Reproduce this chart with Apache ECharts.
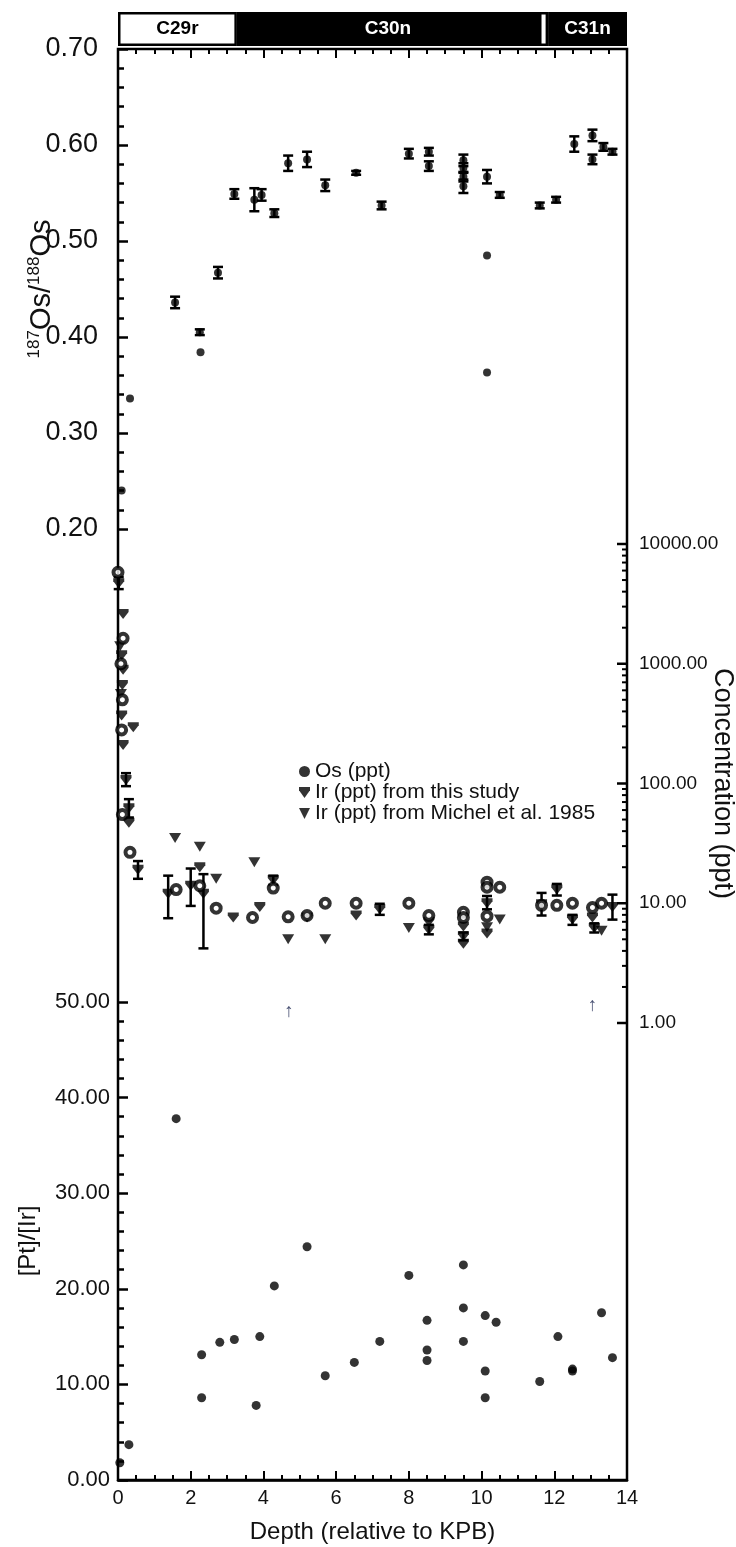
<!DOCTYPE html>
<html>
<head>
<meta charset="utf-8">
<script src="https://cdn.jsdelivr.net/npm/echarts@6.0.0/dist/echarts.min.js"></script>
<style>
  html, body { margin: 0; padding: 0; background: #fff; }
  #chart { width: 736px; height: 1547px; }
</style>
</head>
<body>
<div id="chart"></div>
<script>
// magnetochrons along the top bar
const chronNames = ["C29r", "C30n", "C30r", "C31n"];
const chronStart = [0, 3.27, 11.58, 11.83];
const chronEnd = [3.27, 11.58, 11.83, 14];
const chronNormal = [0, 1, 0, 1];

// 187Os/188Os : [depth, ratio, error]
const osRatio = [
  [0.1, 0.240, 0], [0.33, 0.336, 0], [1.57, 0.436, 0.006], [2.25, 0.405, 0.003],
  [2.27, 0.384, 0], [2.75, 0.467, 0.006], [3.2, 0.549, 0.005], [3.75, 0.543, 0.012],
  [3.95, 0.548, 0.006], [4.3, 0.529, 0.004], [4.68, 0.581, 0.008], [5.2, 0.585, 0.008],
  [5.7, 0.558, 0.006], [6.55, 0.571, 0.002], [7.25, 0.537, 0.004], [8.0, 0.591, 0.005],
  [8.55, 0.593, 0.004], [8.55, 0.578, 0.005], [9.5, 0.584, 0.006], [9.5, 0.576, 0.005],
  [9.5, 0.567, 0.005], [9.5, 0.557, 0.007], [10.15, 0.567, 0.007], [10.15, 0.485, 0],
  [10.15, 0.363, 0], [10.5, 0.548, 0.003], [11.6, 0.537, 0.003], [12.05, 0.543, 0.003],
  [12.55, 0.601, 0.008], [13.05, 0.610, 0.006], [13.05, 0.585, 0.005], [13.35, 0.598, 0.004],
  [13.6, 0.593, 0.003]
];

// Os (ppt) : [depth, value]
const osConc = [
  [0.0, 5800], [0.14, 1630], [0.08, 1000], [0.12, 500], [0.1, 280], [0.12, 55], [0.33, 26.6],
  [1.6, 13], [2.25, 14], [2.7, 9.1], [3.7, 7.6], [4.27, 13.4], [4.68, 7.7], [5.2, 7.9],
  [5.7, 10], [6.55, 10], [8.0, 10], [8.55, 7.9], [9.5, 8.4], [9.5, 7.6], [10.15, 15],
  [10.15, 13.6], [10.15, 7.8], [10.5, 13.6], [11.65, 9.6], [12.07, 9.6], [12.5, 10],
  [13.05, 9.2], [13.3, 10]
];

// Ir (ppt) from this study : [depth, value, low, high]
const irThis = [
  [0.02, 4700, 4200, 5300], [0.14, 2600, null, null], [0.1, 1180, null, null],
  [0.14, 890, null, null], [0.12, 665, null, null], [0.1, 370, null, null],
  [0.14, 210, null, null], [0.42, 295, null, null], [0.22, 107, 95, 122],
  [0.3, 62, 52, 74], [0.3, 47, null, null], [0.55, 19, 16, 22.5], [1.38, 12, 7.5, 17],
  [2.0, 14, 9.5, 19.5], [2.25, 20, null, null], [2.35, 12, 4.2, 17.5], [3.17, 7.6, null, null],
  [3.9, 9.3, null, null], [4.27, 15.6, 14.2, 17], [5.2, 7.6, null, null], [6.55, 7.9, null, null],
  [7.2, 8.9, 8.0, 9.9], [8.55, 7.0, null, null], [8.55, 6.0, 5.5, 6.6], [9.5, 6.4, null, null],
  [9.5, 5.3, 4.9, 5.7], [9.5, 4.6, null, null], [10.15, 10, 8.9, 11.5], [10.15, 5.6, null, null],
  [11.65, 9.8, 7.9, 12.2], [12.07, 13, 11.6, 14.5], [12.5, 7.3, 6.6, 8.0], [13.05, 7.6, null, null],
  [13.1, 6.2, 5.7, 6.8], [13.6, 9.3, 7.3, 11.8]
];

// Ir (ppt) from Michel et al. 1985 : [depth, value]
const irMichel = [
  [0.06, 1400], [0.08, 560], [1.57, 35], [2.25, 29.6], [2.7, 16], [3.75, 22],
  [4.68, 5.0], [5.7, 5.0], [8.0, 6.2], [10.15, 6.3], [10.5, 7.3], [13.3, 5.9]
];

// [Pt]/[Ir] : [depth, ratio]
const ptIr = [
  [0.05, 1.8], [0.3, 3.7], [1.6, 37.8], [2.3, 13.1], [2.3, 8.6], [2.8, 14.4], [3.2, 14.7],
  [3.8, 7.8], [3.9, 15.0], [4.3, 20.3], [5.2, 24.4], [5.7, 10.9], [6.5, 12.3], [7.2, 14.5],
  [8.0, 21.4], [8.5, 16.7], [8.5, 13.6], [8.5, 12.5], [9.5, 22.5], [9.5, 18.0], [9.5, 14.5],
  [10.1, 17.2], [10.1, 11.4], [10.1, 8.6], [10.4, 16.5], [11.6, 10.3], [12.1, 15.0],
  [12.5, 11.6], [12.5, 11.4], [13.3, 17.5], [13.6, 12.8]
];

// little arrows drawn under the concentration panel : [depth, ppt]
const arrowMarks = [[4.7, 1.25], [13.05, 1.4]];

const FONT = "Liberation Sans, Arial, sans-serif";
const INK = "#111";
const LEFT = 118, WIDTH = 509;

// ticks of the log concentration axis: decades + 2..9 in each decade
const concTicks = [[14, 1, 10], [14, 10, 10], [14, 100, 10], [14, 1000, 10], [14, 10000, 10]];
[1, 10, 100, 1000].forEach((d) => {
  for (let m = 2; m <= 9; m++) concTicks.push([14, m * d, 5]);
});

const downTri = "path://M0,0L10,0L5,10Z";
const downTriFlat = "path://M0,0L10,0L10,3L5,10L0,3Z";

function errRows(rows) {
  return rows.filter((r) => r[2] != null && r[3] != null).map((r) => [r[0], r[1], r[2], r[3]]);
}

function errorBar(params, api) {
  const x = api.value(0);
  const top = api.coord([x, api.value(3)]);
  const bot = api.coord([x, api.value(2)]);
  const cap = 5;
  const st = { stroke: "#000", lineWidth: 2.5 };
  return {
    type: "group",
    children: [
      { type: "line", shape: { x1: top[0], y1: top[1], x2: bot[0], y2: bot[1] }, style: st },
      { type: "line", shape: { x1: top[0] - cap, y1: top[1], x2: top[0] + cap, y2: top[1] }, style: st },
      { type: "line", shape: { x1: bot[0] - cap, y1: bot[1], x2: bot[0] + cap, y2: bot[1] }, style: st },
    ],
  };
}

function chronItem(params, api) {
  const i = params.dataIndex;
  const a = api.coord([api.value(0), 1]);
  const b = api.coord([api.value(1), 0]);
  const w = b[0] - a[0], h = b[1] - a[1];
  const normal = chronNormal[i] === 1;
  const children = [
    { type: "rect", shape: { x: a[0], y: a[1], width: w, height: h }, style: { fill: "#000" } },
  ];
  if (!normal) {
    children.push({
      type: "rect",
      shape: { x: a[0] + 2.5, y: a[1] + 2.5, width: w - 5, height: h - 5 },
      style: { fill: "#fff" },
    });
  }
  if (w > 30) {
    children.push({
      type: "text",
      x: a[0] + w / 2,
      y: a[1] + h / 2,
      style: {
        text: chronNames[i],
        fill: normal ? "#fff" : "#000",
        font: "bold 19px " + FONT,
        align: "center",
        verticalAlign: "middle",
      },
    });
  }
  return { type: "group", children };
}

function concTick(params, api) {
  const p = api.coord([api.value(0), api.value(1)]);
  const len = api.value(2);
  return {
    type: "line",
    shape: { x1: p[0], y1: p[1], x2: p[0] - len, y2: p[1] },
    style: { stroke: "#000", lineWidth: len > 6 ? 2.5 : 2 },
  };
}

const chart = echarts.init(document.getElementById("chart"), null, { renderer: "canvas" });

const hiddenX = (gridIndex) => ({
  type: "value", gridIndex, min: 0, max: 14, show: false,
});

const gridBase = { left: LEFT, width: WIDTH, outerBoundsMode: "none", containLabel: false };

const option = {
  backgroundColor: "#fff",
  animation: false,
  textStyle: { fontFamily: FONT, color: INK },
  grid: [
    Object.assign({}, gridBase, { top: 49, height: 1431, show: true, borderColor: "#000", borderWidth: 2.5, backgroundColor: "transparent" }),
    Object.assign({}, gridBase, { top: 49, height: 480 }),
    Object.assign({}, gridBase, { top: 544, height: 479 }),
    Object.assign({}, gridBase, { top: 1002, height: 478 }),
    Object.assign({}, gridBase, { top: 12, height: 34 }),
  ],
  xAxis: [
    {
      type: "value", gridIndex: 0, position: "bottom", min: 0, max: 14, interval: 2,
      axisLine: { show: true, lineStyle: { color: "#000", width: 2.5 } },
      axisTick: { inside: true, length: 9, lineStyle: { color: "#000", width: 2 } },
      minorTick: { show: true, splitNumber: 4, length: 5, lineStyle: { color: "#000", width: 2 } },
      axisLabel: { fontSize: 20, color: INK, margin: 8 },
      splitLine: { show: false },
      name: "Depth (relative to KPB)", nameLocation: "middle", nameGap: 40, nameMoveOverlap: false,
      nameTextStyle: { fontSize: 24, color: INK },
    },
    {
      type: "value", gridIndex: 0, position: "top", min: 0, max: 14, interval: 2,
      axisLine: { show: false },
      axisTick: { inside: true, length: 9, lineStyle: { color: "#000", width: 2 } },
      minorTick: { show: true, splitNumber: 4, length: 5, lineStyle: { color: "#000", width: 2 } },
      axisLabel: { show: false },
      splitLine: { show: false },
    },
    hiddenX(1), hiddenX(2), hiddenX(3), hiddenX(4),
  ],
  yAxis: [
    {
      type: "value", gridIndex: 1, position: "left", min: 0.2, max: 0.7, interval: 0.1,
      axisLine: { show: false },
      axisTick: { inside: true, length: 10, lineStyle: { color: "#000", width: 2.5 } },
      minorTick: { show: true, splitNumber: 5, length: 6, lineStyle: { color: "#000", width: 2.5 } },
      axisLabel: { fontSize: 27, color: INK, margin: 20, formatter: (v) => v.toFixed(2) },
      splitLine: { show: false },
      name: "{s|187}{n|Os/}{s|188}{n|Os}", nameLocation: "middle", nameRotate: 90, nameGap: 62,
      nameMoveOverlap: false,
      nameTextStyle: {
        rich: {
          s: { fontSize: 17, verticalAlign: "top", lineHeight: 30, color: INK, fontFamily: FONT },
          n: { fontSize: 29, verticalAlign: "bottom", lineHeight: 30, color: INK, fontFamily: FONT },
        },
      },
    },
    {
      type: "log", logBase: 10, gridIndex: 2, position: "right", min: 1, max: 10000,
      axisLine: { show: false },
      axisTick: { show: false },
      axisLabel: { fontSize: 19, color: INK, margin: 12, formatter: (v) => Number(v).toFixed(2) },
      splitLine: { show: false },
      name: "Concentration (ppt)", nameLocation: "middle", nameRotate: -90, nameGap: 82,
      nameMoveOverlap: false,
      nameTextStyle: { fontSize: 27, color: INK },
    },
    {
      type: "value", gridIndex: 3, position: "left", min: 0, max: 50, interval: 10,
      axisLine: { show: false },
      axisTick: { inside: true, length: 10, lineStyle: { color: "#000", width: 2.5 } },
      minorTick: { show: true, splitNumber: 5, length: 6, lineStyle: { color: "#000", width: 2.5 } },
      axisLabel: { fontSize: 22, color: INK, margin: 8, formatter: (v) => v.toFixed(2) },
      splitLine: { show: false },
      name: "[Pt]/[Ir]", nameLocation: "middle", nameRotate: 90, nameGap: 78,
      nameMoveOverlap: false,
      nameTextStyle: { fontSize: 24, color: INK },
    },
    { type: "value", gridIndex: 0, min: 0, max: 1, show: false },
    { type: "value", gridIndex: 4, min: 0, max: 1, show: false },
  ],
  legend: {
    orient: "vertical", left: 294, top: 756, itemGap: 0,
    itemWidth: 11, itemHeight: 11,
    textStyle: { fontSize: 21, color: INK, lineHeight: 19, fontFamily: FONT },
    data: [
      { name: "Os (ppt)", icon: "circle", itemStyle: { color: "#000", borderWidth: 0 } },
      { name: "Ir (ppt) from this study", icon: downTriFlat },
      { name: "Ir (ppt) from Michel et al. 1985", icon: downTri },
    ],
  },
  series: [
    {
      type: "custom", xAxisIndex: 5, yAxisIndex: 4, renderItem: chronItem,
      data: chronStart.map((s, i) => [s, chronEnd[i]]), silent: true, clip: false,
    },
    {
      type: "custom", xAxisIndex: 2, yAxisIndex: 0, renderItem: errorBar, silent: true, clip: false,
      data: errRows(osRatio.map((r) => [r[0], r[1], r[2] ? r[1] - r[2] : null, r[2] ? r[1] + r[2] : null])),
    },
    {
      type: "scatter", name: "187Os/188Os", xAxisIndex: 2, yAxisIndex: 0,
      symbol: "circle", symbolSize: 8, itemStyle: { color: "#000" },
      data: osRatio.map((r) => [r[0], r[1]]),
    },
    {
      type: "custom", xAxisIndex: 3, yAxisIndex: 1, renderItem: concTick, silent: true, clip: false,
      data: concTicks,
    },
    {
      type: "custom", xAxisIndex: 3, yAxisIndex: 1, renderItem: errorBar, silent: true, clip: false,
      data: errRows(irThis),
    },
    {
      type: "scatter", name: "Ir (ppt) from this study", xAxisIndex: 3, yAxisIndex: 1,
      symbol: downTriFlat, symbolSize: [11, 10], itemStyle: { color: "#000" },
      data: irThis.map((r) => [r[0], r[1]]),
    },
    {
      type: "scatter", name: "Ir (ppt) from Michel et al. 1985", xAxisIndex: 3, yAxisIndex: 1,
      symbol: downTri, symbolSize: [12, 10], itemStyle: { color: "#000" },
      data: irMichel,
    },
    {
      type: "scatter", name: "Os (ppt)", xAxisIndex: 3, yAxisIndex: 1,
      symbol: "circle", symbolSize: 9,
      itemStyle: { color: "#fff", borderColor: "#000", borderWidth: 4 },
      data: osConc,
    },
    {
      type: "scatter", name: "arrows", xAxisIndex: 3, yAxisIndex: 1,
      symbol: "circle", symbolSize: 1, itemStyle: { color: "transparent" },
      label: { show: true, position: "inside", formatter: "\u2191", fontSize: 19, color: "#1b2550", fontFamily: FONT },
      data: arrowMarks, silent: true,
    },
    {
      type: "scatter", name: "[Pt]/[Ir]", xAxisIndex: 4, yAxisIndex: 2,
      symbol: "circle", symbolSize: 9, itemStyle: { color: "#000" },
      data: ptIr,
    },
  ],
};

chart.setOption(option);
</script>
</body>
</html>
